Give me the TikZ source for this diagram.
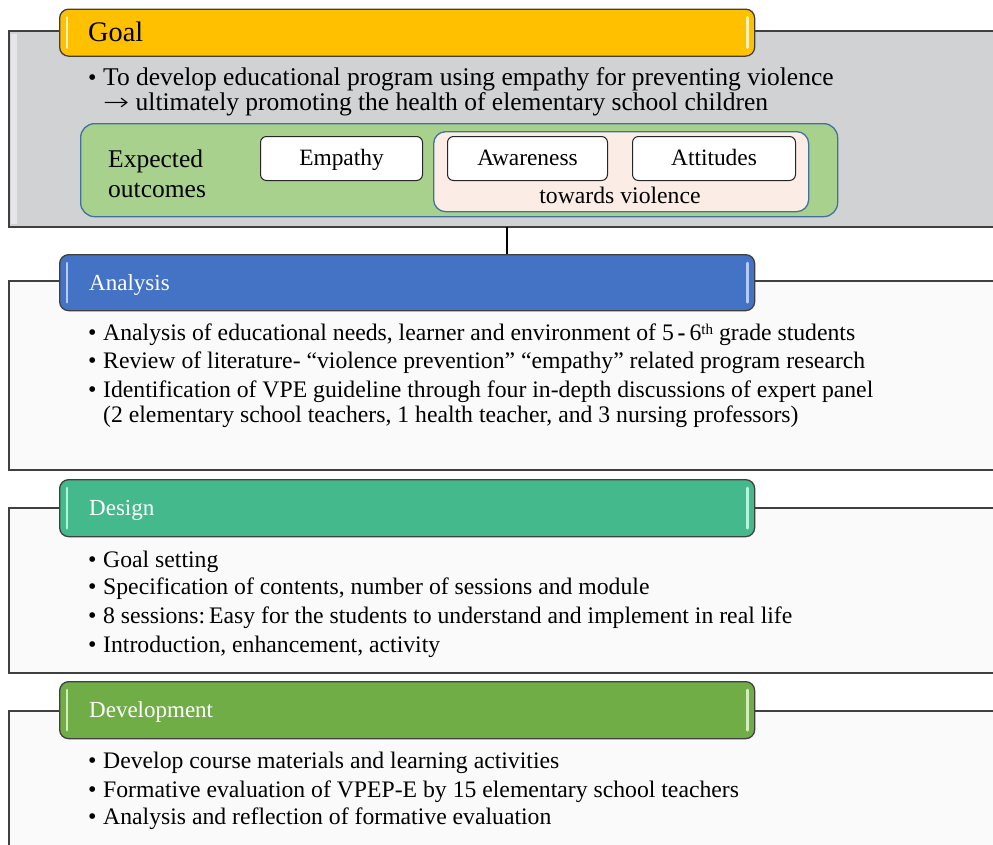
\documentclass[tikz,border=0pt]{standalone}
\usepackage{fontspec}
\setmainfont{Liberation Serif}
\newfontfamily\arrowfont{DejaVu Sans ExtraLight}
\definecolor{goalgray}{HTML}{D1D2D4}
\definecolor{goalrim}{HTML}{E6E6E8}
\definecolor{bodyfill}{HTML}{FAFAFA}
\definecolor{rimgray}{HTML}{404040}
\definecolor{goalyellow}{HTML}{FFC000}
\definecolor{goalhl}{HTML}{FFF3B8}
\definecolor{anablue}{HTML}{4472C4}
\definecolor{anahl}{HTML}{B4CCF4}
\definecolor{desteal}{HTML}{44BA8C}
\definecolor{deshl}{HTML}{B4F4DA}
\definecolor{devgreen}{HTML}{70AD47}
\definecolor{devhl}{HTML}{D2EEBC}
\definecolor{outgreen}{HTML}{A9D18E}
\definecolor{outblue}{HTML}{41719C}
\definecolor{peach}{HTML}{FBEDE5}
\newcommand{\bul}{\makebox[15pt][l]{\fontsize{24}{24}\selectfont\textbullet}}
\newcommand{\ordth}{\raisebox{6pt}{\fontsize{15}{15}\selectfont th}}
\newcommand{\longarrow}{\scalebox{1.3}[1]{\arrowfont\fontsize{24}{28}\selectfont →}}
\begin{document}
\begin{tikzpicture}[x=1pt,y=-1pt,
  bodybox/.style={draw=rimgray,line width=1.3pt,anchor=north west,inner sep=0pt,outer sep=0pt,fill=bodyfill},
  headbox/.style={draw=rimgray,line width=1.3pt,rounded corners=9pt,anchor=north west,inner sep=0pt,
    minimum width=695pt,minimum height=56pt},
  hlbar/.style={line width=2.6pt,line cap=round},
  headtxt/.style={anchor=base west,inner sep=0pt,text=white,font=\fontsize{23}{27}\selectfont},
  bodytxt/.style={anchor=base west,inner sep=0pt,font=\fontsize{23.7}{28}\selectfont},
  goaltxt/.style={anchor=base west,inner sep=0pt,font=\fontsize{25.5}{30}\selectfont},
  whitebox/.style={draw=black!85,fill=white,line width=1pt,rounded corners=6pt,inner sep=0pt,
    minimum width=162pt,minimum height=44pt,text height=17pt,text depth=4pt,font=\fontsize{23.4}{28}\selectfont},
  conn/.style={draw=black,line width=1.3pt}]
\useasboundingbox (0,0) rectangle (993,844);

% ---------------- Goal ----------------
\node[bodybox,fill=goalgray,minimum width=1000pt,minimum height=196pt] (goalbody) at (9,31) {};
\fill[goalrim] (10.5,34) rectangle (17,224);
\node[headbox,fill=goalyellow,minimum height=47pt] (goalhead) at (59,8.5) {};
\draw[hlbar,goalhl] ([xshift=8pt,yshift=-9pt]goalhead.north west) -- ([xshift=8pt,yshift=9pt]goalhead.south west);
\draw[hlbar,goalhl] ([xshift=-8pt,yshift=-9pt]goalhead.north east) -- ([xshift=-8pt,yshift=9pt]goalhead.south east);
\node[anchor=base west,inner sep=0pt,font=\fontsize{28.3}{32}\selectfont] (goallabel) at (88,41) {Goal};
\node[goaltxt] (g1) at (88,85) {\bul To develop educational program using empathy for preventing violence};
\node[goaltxt] (g2) at (103,110) {\longarrow\ ultimately promoting the health of elementary school children};

% expected outcomes panel
\node[draw=outblue,fill=outgreen,line width=1.3pt,rounded corners=14pt,anchor=north west,inner sep=0pt,
  minimum width=757pt,minimum height=93pt] (outpanel) at (80,123) {};
\node[draw=outblue,fill=peach,line width=1.3pt,rounded corners=12pt,anchor=north west,inner sep=0pt,
  minimum width=375pt,minimum height=80pt] (violpanel) at (433,131) {};
\node[goaltxt] (exp1) at (108,167) {Expected};
\node[goaltxt] (exp2) at (108,197) {outcomes};
\node[whitebox,anchor=north west] (empathy) at (260,136) {Empathy};
\node[whitebox,anchor=north west,minimum width=160pt] (awareness) at (447,136) {Awareness};
\node[whitebox,anchor=north west,minimum width=163pt] (attitudes) at (632,136) {Attitudes};
\node[anchor=base,inner sep=0pt,font=\fontsize{23.7}{28}\selectfont] (towards) at (620,203) {towards violence};

% ---------------- Analysis ----------------
\node[bodybox,minimum width=1000pt,minimum height=189pt] (anabody) at (9,281) {};
\node[headbox,fill=anablue] (anahead) at (59,254) {};
\draw[hlbar,anahl] ([xshift=8pt,yshift=-9pt]anahead.north west) -- ([xshift=8pt,yshift=9pt]anahead.south west);
\draw[hlbar,anahl] ([xshift=-8pt,yshift=-9pt]anahead.north east) -- ([xshift=-8pt,yshift=9pt]anahead.south east);
\node[headtxt] (analabel) at (89,290) {Analysis};
\node[bodytxt] (a1) at (88,340) {\bul Analysis of educational needs, learner and environment of 5\,\textbf{-}\,6\ordth{} grade students};
\node[bodytxt] (a2) at (88,368) {\bul Review of literature- “violence prevention” “empathy” related program research};
\node[bodytxt] (a3) at (88,397) {\bul Identification of VPE guideline through four in-depth discussions of expert panel};
\node[bodytxt] (a4) at (103,422) {(2 elementary school teachers, 1 health teacher, and 3 nursing professors)};

% ---------------- Design ----------------
\node[bodybox,minimum width=1000pt,minimum height=165pt] (desbody) at (9,508) {};
\node[headbox,fill=desteal,minimum height=57pt] (deshead) at (59,479) {};
\draw[hlbar,deshl] ([xshift=8pt,yshift=-9pt]deshead.north west) -- ([xshift=8pt,yshift=9pt]deshead.south west);
\draw[hlbar,deshl] ([xshift=-8pt,yshift=-9pt]deshead.north east) -- ([xshift=-8pt,yshift=9pt]deshead.south east);
\node[headtxt] (deslabel) at (89,515) {Design};
\node[bodytxt] (d1) at (88,567) {\bul Goal setting};
\node[bodytxt] (d2) at (88,594) {\bul Specification of contents, number of sessions and module};
\node[bodytxt] (d3) at (88,623) {\bul 8 sessions:\,Easy for the students to understand and implement in real life};
\node[bodytxt] (d4) at (88,652) {\bul Introduction, enhancement, activity};

% ---------------- Development ----------------
\node[bodybox,minimum width=1000pt,minimum height=160pt] (devbody) at (9,711) {};
\node[headbox,fill=devgreen,minimum height=57pt] (devhead) at (59,681) {};
\draw[hlbar,devhl] ([xshift=8pt,yshift=-9pt]devhead.north west) -- ([xshift=8pt,yshift=9pt]devhead.south west);
\draw[hlbar,devhl] ([xshift=-8pt,yshift=-9pt]devhead.north east) -- ([xshift=-8pt,yshift=9pt]devhead.south east);
\node[headtxt] (devlabel) at (89,717) {Development};
\node[bodytxt] (v1) at (88,768) {\bul Develop course materials and learning activities};
\node[bodytxt] (v2) at (88,797) {\bul Formative evaluation of VPEP-E by 15 elementary school teachers};
\node[bodytxt] (v3) at (88,824) {\bul Analysis and reflection of formative evaluation};

% link from the goal panel down to the analysis step
\coordinate (cx) at (507,0);
\draw[conn] (goalbody.south -| cx) -- (anahead.north -| cx);
\end{tikzpicture}
\end{document}
